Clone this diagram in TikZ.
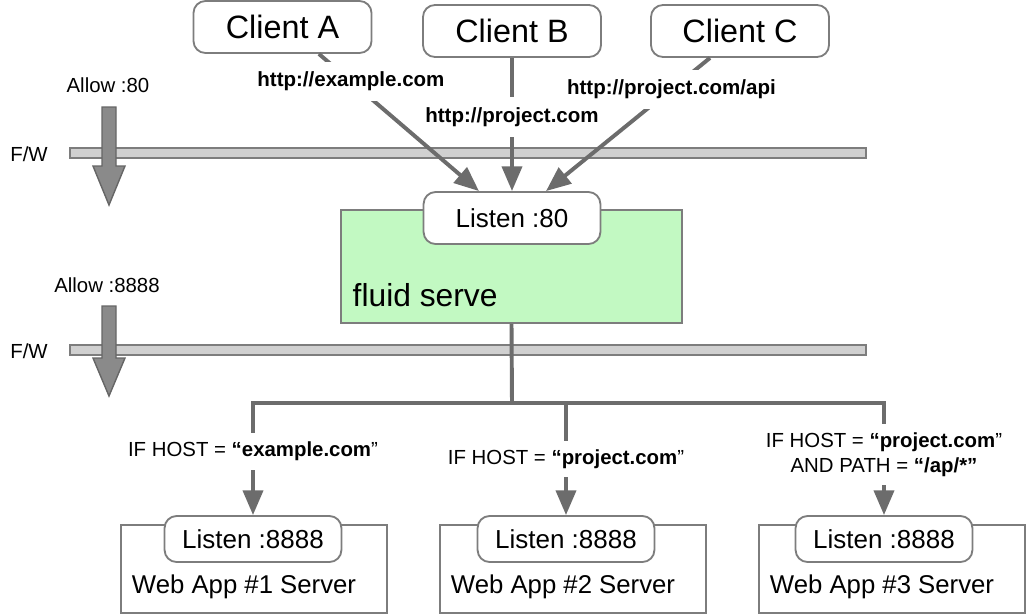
\documentclass[tikz,border=0pt]{standalone}
\usepackage{fontspec}
\setmainfont{Liberation Sans}
\usetikzlibrary{arrows.meta}

\definecolor{linegray}{RGB}{108,108,108}
\definecolor{boxgray}{RGB}{125,125,125}
\definecolor{bargray}{RGB}{208,208,208}
\definecolor{servegreen}{RGB}{194,249,194}
\definecolor{biggray}{RGB}{138,138,138}

\tikzset{
  client/.style={draw=boxgray, line width=1.3pt, fill=white, rounded corners=0.3cm,
    minimum width=4.45cm, minimum height=1.3cm, inner sep=0pt, font=\fontsize{23}{26}\selectfont},
  listen/.style={client, minimum width=4.42cm, minimum height=1.15cm, font=\fontsize{18.5}{22}\selectfont},
  appbox/.style={draw=boxgray, line width=1.3pt, fill=white, minimum width=6.65cm, minimum height=2.2cm},
  fwbar/.style={draw=boxgray, line width=1.3pt, fill=bargray, minimum width=19.9cm, minimum height=0.25cm, inner sep=0pt},
  conn/.style={draw=linegray, line width=2.8pt},
  headline/.style={conn, -{Triangle[width=0.5cm,length=0.62cm]}},
  url/.style={fill=white, inner xsep=2pt, inner ysep=0.25cm, font=\bfseries\fontsize{14.6}{17}\selectfont},
  note/.style={font=\fontsize{14.5}{17.5}\selectfont},
  cond/.style={note, fill=white, inner xsep=2pt, inner ysep=0.22cm, align=center},
  bigarrow/.style={draw=black!60, line width=1pt, fill=biggray, line join=miter},
}

\begin{document}
\begin{tikzpicture}[x=0.025cm, y=-0.025cm]
  \useasboundingbox (0,0) rectangle (1028,614);

  % firewalls
  \node[fwbar] (bar1) at (468,153) {};
  \node[fwbar] (bar2) at (468,350) {};
  \node[note] (fw1) at (29,154) {F/W};
  \node[note] (fw2) at (29,351) {F/W};
  \node[note] (allow80) at (108,85) {Allow :80};
  \node[note] (allow8888) at (107,285) {Allow :8888};
  \draw[bigarrow] (102,107) -- (116,107) -- (116,166) -- (125,166) -- (109,205)
    -- (93,166) -- (102,166) -- cycle;
  \draw[bigarrow] (102,306) -- (116,306) -- (116,358) -- (125,358) -- (109,396)
    -- (93,358) -- (102,358) -- cycle;

  % clients
  \node[client] (ca) at (282.5,27) {Client A};
  \node[client] (cb) at (512,31) {Client B};
  \node[client] (cc) at (740,31) {Client C};

  % fluid serve
  \node[draw=boxgray, line width=1.3pt, fill=servegreen, minimum width=8.525cm,
    minimum height=2.825cm] (serve) at (511.5,266.5) {};
  \node[anchor=base west, inner sep=1pt, font=\fontsize{22.6}{26}\selectfont] (servetxt) at (351,306) {fluid serve};
  \node[listen, minimum height=1.3cm] (l80) at (512,218) {Listen :80};

  \draw[headline] ([xshift=0.91cm]ca.south) -- ([xshift=-0.825cm]l80.north)
    node[url, pos=0.2] {http://example.com};
  \draw[headline] (cb.south) -- (l80.north)
    node[url, pos=0.444] {http://project.com};
  \draw[headline] ([xshift=-0.75cm]cc.south) -- ([xshift=0.85cm]l80.north)
    node[url, pos=0.235] {http://project.com/api};

  % web apps
  \node[appbox] (app1) at (254,569) {};
  \node[appbox] (app2) at (573,569) {};
  \node[appbox] (app3) at (892,569) {};
  \node[listen] (l1) at (253,539) {Listen :8888};
  \node[listen] (l2) at (566,539) {Listen :8888};
  \node[listen] (l3) at (884,539) {Listen :8888};
  \node[anchor=west, font=\fontsize{18.3}{22}\selectfont] (app1txt) at (127,587) {Web App \#1 Server};
  \node[anchor=west, font=\fontsize{18.3}{22}\selectfont] (app2txt) at (446,587) {Web App \#2 Server};
  \node[anchor=west, font=\fontsize{18.3}{22}\selectfont] (app3txt) at (765,587) {Web App \#3 Server};

  % routing
  \coordinate (bus) at (512,403);
  \draw[conn] (serve.south) -- (bus);
  \draw[conn, line cap=rect] (l1.north |- bus) -- (l3.north |- bus);
  \draw[headline] (l1.north |- bus) -- (l1.north)
    node[cond, pos=0.43] {IF HOST = \textbf{“example.com}”};
  \draw[headline] (l2.north |- bus) -- (l2.north)
    node[cond, pos=0.5] {IF HOST = \textbf{“project.com}”};
  \draw[headline] (l3.north |- bus) -- (l3.north)
    node[cond, pos=0.46] {IF HOST = \textbf{“project.com}”\\AND PATH = \textbf{“/ap/*”}};
\end{tikzpicture}
\end{document}
